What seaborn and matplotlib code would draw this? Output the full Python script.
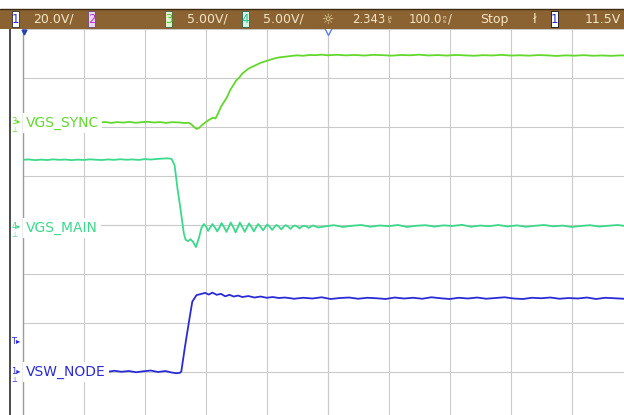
import numpy as np
import pandas as pd
import matplotlib
matplotlib.use("Agg")
import matplotlib.pyplot as plt
import seaborn as sns
from matplotlib.patches import Rectangle
from matplotlib.lines import Line2D
from matplotlib.ticker import MultipleLocator

# ---------------- data: time in ns (relative to trigger), amplitude in volts ----------------
sync_t = [-500, -450, -400, -374, -365, -355, -345, -335, -325, -315, -305, -295, -285, -275, -265, -255, -245, -235, -228,
          -224, -220, -215, -211, -206, -200, -194, -188, -184, -180, -175, -170, -165, -160, -155, -150, -145, -140,
          -130, -120, -110, -100, -90, -80, -70, -60, -50, -40, -30, -20, -10, 0,
          15, 30, 45, 60, 75, 90, 105, 120, 135, 150, 165, 180, 195, 210, 225, 240, 255, 270, 285, 300, 315, 330,
          345, 360, 375, 390, 405, 420, 435, 450, 465, 480, 495, 500]
sync_v = [0.0, 0.0, 0.0, 0.02, 0.06, -0.03, 0.05, 0.0, 0.07, -0.02, 0.04, 0.08, 0.01, 0.05, -0.03, 0.04, 0.02, -0.04, -0.02,
          -0.15, -0.4, -0.65, -0.55, -0.25, 0.05, 0.3, 0.5, 0.42, 0.9, 1.6, 2.1, 2.6, 3.3, 3.8, 4.3, 4.6, 5.0,
          5.5, 5.8, 6.1, 6.3, 6.5, 6.65, 6.72, 6.8, 6.86, 6.82, 6.9, 6.88, 6.93, 6.87,
          6.92, 6.86, 6.9, 6.84, 6.91, 6.88, 6.83, 6.9, 6.87, 6.93, 6.85, 6.89, 6.84, 6.9, 6.86, 6.82, 6.88, 6.85,
          6.91, 6.84, 6.87, 6.83, 6.89, 6.86, 6.8, 6.86, 6.83, 6.88, 6.82, 6.85, 6.81, 6.86, 6.83, 6.84]

main_t = [-500, -490, -480, -470, -460, -450, -440, -430, -420, -410, -400, -390, -380, -370, -360, -350, -340, -330,
          -320, -310, -300, -290, -280, -270, -262, -256,
          -251, -246, -241, -236, -233, -229, -225, -221, -216, -211, -207, -203,
          -199, -196, -192, -189, -185, -181, -177, -174, -170, -166, -162, -159, -155, -151, -147, -144, -140, -136,
          -132, -129, -125, -121, -117, -114, -110, -106, -102, -99, -95, -91, -87, -84, -80, -76, -72, -69,
          -65, -61, -57, -54, -50, -46, -42, -39, -35, -31, -27, -24, -20, -16,
          -5, 10, 25, 40, 55, 70, 85, 100, 115, 130, 145, 160, 175, 190, 205, 220, 235, 250, 265, 280, 295, 310,
          325, 340, 355, 370, 385, 400, 415, 430, 445, 460, 475, 490, 500]
main_v = [6.95, 6.99, 6.92, 6.97, 6.93, 7.0, 6.95, 6.98, 6.92, 6.97, 6.94, 7.0, 6.96, 6.93, 6.99, 6.95, 7.01, 6.96,
          6.99, 6.94, 7.02, 6.98, 7.04, 7.08, 7.1, 7.05,
          6.4, 3.9, 1.8, -0.5, -1.2, -1.35, -1.15, -1.4, -1.95, -1.0, 0.0, 0.4,
          0.1, -0.3, 0.1, 0.4, 0.05, -0.35, 0.1, 0.5, 0.1, -0.4, 0.1, 0.55, 0.1, -0.45, 0.1, 0.55, 0.1, -0.4,
          0.1, 0.45, 0.1, -0.35, 0.1, 0.4, 0.12, -0.25, 0.12, 0.35, 0.12, -0.2, 0.13, 0.3, 0.13, -0.15, 0.14, 0.28,
          0.14, -0.1, 0.15, 0.25, 0.15, -0.05, 0.16, 0.22, 0.16, 0.0, 0.17, 0.25, 0.16, 0.05,
          0.15, 0.28, 0.1, 0.22, 0.3, 0.12, 0.25, 0.18, 0.3, 0.1, 0.22, 0.28, 0.14, 0.26, 0.2, 0.32, 0.12, 0.24,
          0.18, 0.3, 0.15, 0.26, 0.12, 0.22, 0.3, 0.16, 0.24, 0.1, 0.2, 0.28, 0.14, 0.22, 0.3, 0.18, 0.24]

sw_t = [-500, -450, -400, -374, -362, -350, -338, -326, -314, -302, -290, -278, -266, -256, -248, -242,
        -240, -234, -227, -222, -215, -208, -201, -195, -189, -182, -175, -168, -161, -154, -147, -140,
        -130, -120, -110, -100, -90, -80,
        -70, -55, -40, -25, -10, 5, 20, 35, 50, 65, 80, 95, 110, 125, 140, 155, 170, 185, 200, 215, 230, 245,
        260, 275, 290, 305, 320, 335, 350, 365, 380, 395, 410, 425, 440, 455, 470, 485, 500]
sw_v = [0.2, 0.2, 0.2, 0.3, 0.0, 0.5, 0.1, 0.4, -0.1, 0.3, 0.6, 0.0, 0.4, -0.2, -0.5, -0.3,
        0.2, 10.3, 21.2, 28.7, 31.4, 31.8, 32.3, 31.6, 32.4, 31.5, 31.9, 30.9, 31.5, 30.8, 31.2, 30.6,
        31.0, 30.4, 30.8, 30.3, 30.6, 30.2,
        30.4, 29.9, 30.3, 30.0, 30.5, 29.8, 30.2, 30.4, 29.9, 30.3, 30.1, 29.8, 30.4, 30.0, 30.3, 29.9, 30.5,
        30.1, 29.8, 30.3, 30.0, 30.4, 29.9, 30.2, 30.5, 30.0, 29.8, 30.3, 30.1, 30.4, 29.9, 30.2, 30.0, 30.4,
        29.8, 30.3, 30.1, 29.9, 30.2]

channel_names = ["VGS_SYNC", "VGS_MAIN", "VSW_NODE"]
channel_numbers = ["3", "4", "1"]
volts_per_div = [5.0, 5.0, 20.0]
ground_div = [2.09, -0.06, -3.0]
trace_colors = ["#62d82c", "#3bd98c", "#2b2bd6"]

header_scale_1 = "20.0V/"
header_scale_3 = "5.00V/"
header_scale_4 = "5.00V/"
header_delay = "2.343"
header_timebase = "100.0"
header_state = "Stop"
header_trig_level = "11.5V"

# ---------------- figure ----------------
sns.set_style("white")
W, H = 624, 415
fig = plt.figure(figsize=(W / 100, H / 100), dpi=100)
fig.patch.set_facecolor("white")


def fx(x):
    return x / W


def fy(y):
    return 1 - y / H


ax_left, ax_top, ax_w, ax_h = 22.7, 29, 610, 392
ax = fig.add_axes([fx(ax_left), fy(ax_top + ax_h), ax_w / W, ax_h / H])
ax.set_facecolor("white")

frames = []
for name, t, v, vdiv, g in zip(channel_names, [sync_t, main_t, sw_t], [sync_v, main_v, sw_v],
                               volts_per_div, ground_div):
    frames.append(pd.DataFrame({"time_ns": t, "volts": v, "channel": name,
                                "screen_div": g + np.asarray(v, dtype=float) / vdiv}))
df = pd.concat(frames, ignore_index=True)

sns.lineplot(data=df, x="time_ns", y="screen_div", hue="channel",
             palette=dict(zip(channel_names, trace_colors)), estimator=None, sort=False,
             lw=1.3, legend=False, ax=ax, zorder=3)

ax.set_xlim(-500, 500)
ax.set_ylim(-4, 4)
ax.set_xlabel("")
ax.set_ylabel("")
ax.xaxis.set_major_locator(MultipleLocator(100))
ax.yaxis.set_major_locator(MultipleLocator(1))
ax.xaxis.set_minor_locator(MultipleLocator(20))
ax.yaxis.set_minor_locator(MultipleLocator(0.25))
ax.grid(True, which="major", color="#cacaca", lw=0.8, zorder=0)
ax.spines["bottom"].set_position("zero")
ax.spines["left"].set_position("zero")
for s in ["bottom", "left"]:
    ax.spines[s].set_color("#cacaca")
    ax.spines[s].set_linewidth(0.8)
for s in ["top", "right"]:
    ax.spines[s].set_visible(False)
ax.tick_params(which="both", direction="inout", length=5, width=0.8, color="#a8a8a8",
               labelbottom=False, labelleft=False)
ax.axvline(-500, color="#9c9c9c", lw=1.0, clip_on=False, zorder=1)

# channel labels on the traces
for name, g, col in zip(channel_names, ground_div, trace_colors):
    ax.text(-495, g, name, color=col, fontsize=10, va="center", ha="left", zorder=6,
            bbox=dict(boxstyle="square,pad=0.22", fc="white", ec="none"))

# trigger position markers at top
ax.plot([0], [3.95], marker="v", ms=6, mfc="white", mec="#5b80e0", mew=1.0, clip_on=False, zorder=7)
ax.plot([-498], [3.94], marker="v", ms=3.5, color="#2545a8", clip_on=False, zorder=7)

# left-side channel ground markers
fig.add_artist(Line2D([fx(9.5), fx(9.5)], [fy(29), fy(415)], color="#3c3c3c", lw=1.3))
for num, g, col in zip(channel_numbers, ground_div, trace_colors):
    ypx = 225 - g * 49
    fig.text(fx(16), fy(ypx - 1), num + "\u25b8", color=col, fontsize=6, ha="center", va="center")
    fig.text(fx(14), fy(ypx + 7.5), "\u22a5", color=col, fontsize=5, ha="center", va="center")
fig.text(fx(16), fy(341), "T\u25b8", color="#2b2bd6", fontsize=6, ha="center", va="center")

# ---------------- header bar ----------------
fig.add_artist(Rectangle((0, fy(29)), 1, 20 / H, transform=fig.transFigure, fc="#8b6332", ec="none", zorder=5))
fig.add_artist(Line2D([0, 1], [fy(9.3), fy(9.3)], color="#3a2a12", lw=1.0, zorder=6))

txt_col = "#f4e6c4"


def box(x0, x1, label, fc, tc, ec):
    fig.add_artist(Rectangle((fx(x0), fy(27)), (x1 - x0) / W, 16 / H, transform=fig.transFigure,
                             fc=fc, ec=ec, lw=0.6, zorder=6))
    fig.text(fx((x0 + x1) / 2), fy(19.3), label, color=tc, fontsize=8.5, ha="center", va="center", zorder=7)


box(12, 18.5, "1", "white", "#2a2ad0", "#303030")
box(88, 95, "2", "#ead6f2", "#b43cc8", "#6a4a6a")
box(165, 172, "3", "#dff3cf", "#58c828", "#4a5a3a")
box(241.5, 248.5, "4", "#d0f3e6", "#2fc48a", "#3a5a4a")
box(550.5, 558, "1", "white", "#2a2ad0", "#101010")

ty = fy(19.5)
kw = dict(color=txt_col, fontsize=9, va="center", ha="left", zorder=7)
fig.text(fx(33), ty, header_scale_1, **kw)
fig.text(fx(187), ty, header_scale_3, **kw)
fig.text(fx(263), ty, header_scale_4, **kw)
fig.text(fx(328.5), ty, "\u263c", color="#e6e2a6", fontsize=10, va="center", ha="center", zorder=7)
kw_num = dict(color=txt_col, fontsize=8.4, va="center", ha="left", zorder=7)
fig.text(fx(352), ty, header_delay, **kw_num)
fig.text(fx(389), ty, "\u00b5\ns", color=txt_col, fontsize=4.2, linespacing=0.85, va="center",
         ha="center", zorder=7)
fig.text(fx(409), ty, header_timebase, **kw_num)
fig.text(fx(444.5), ty, "n\ns", color=txt_col, fontsize=4.2, linespacing=0.85, va="center",
         ha="center", zorder=7)
fig.text(fx(447.5), ty, "/", **kw_num)
fig.text(fx(480), ty, header_state, **kw)
fig.text(fx(533), ty, "\u0142", **kw)
fig.text(fx(585), ty, header_trig_level, **kw)

fig.savefig("out.png", dpi=100)
